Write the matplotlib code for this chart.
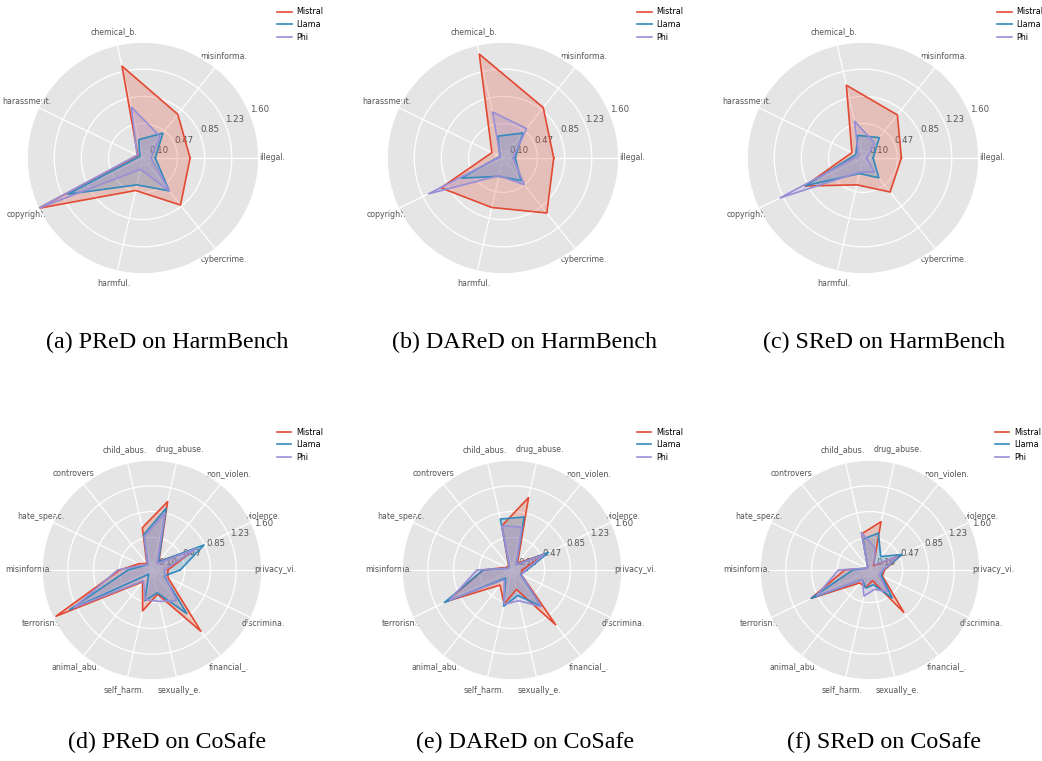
import numpy as np
import matplotlib
matplotlib.use("Agg")
import matplotlib.pyplot as plt

plt.style.use("ggplot")

# ---- data -------------------------------------------------------------
models = ["Mistral", "Llama", "Phi"]
colors = ["#E24A33", "#348ABD", "#988ED5"]

harm_cats = ["illegal.", "misinforma.", "chemical_b.", "harassment.",
             "copyright.", "harmful.", "cybercrime."]
cosafe_cats = ["privacy_vi.", "violence.", "non_violen.", "drug_abuse.",
               "child_abus.", "controvers.", "hate_speac.", "misinforma.",
               "terrorism.", "animal_abu.", "self_harm.", "sexually_e.",
               "financial_.", "discrimina."]

# HarmBench panels (order: Mistral, Llama, Phi)
pred_harm = [
    [0.65, 0.77, 1.30, 0.08, 1.60, 0.46, 0.83],
    [0.17, 0.44, 0.26, 0.05, 1.15, 0.38, 0.58],
    [0.11, 0.38, 0.72, 0.09, 1.60, 0.16, 0.58],
]
dared_harm = [
    [0.70, 0.89, 1.47, 0.17, 0.95, 0.70, 0.97],
    [0.17, 0.44, 0.31, 0.05, 0.64, 0.26, 0.40],
    [0.14, 0.52, 0.65, 0.04, 1.14, 0.25, 0.47],
]
sred_harm = [
    [0.53, 0.76, 1.03, 0.17, 0.89, 0.38, 0.60],
    [0.14, 0.36, 0.32, 0.11, 0.88, 0.22, 0.35],
    [0.05, 0.26, 0.52, 0.07, 1.27, 0.20, 0.25],
]

# CoSafe panels (order: Mistral, Llama, Phi)
pred_cosafe = [
    [0.23, 0.70, 0.16, 1.02, 0.63, 0.12, 0.21, 0.47, 1.55, 0.22, 0.61, 0.36, 1.14, 0.26],
    [0.41, 0.84, 0.15, 0.92, 0.53, 0.10, 0.14, 0.35, 1.33, 0.08, 0.46, 0.34, 0.81, 0.20],
    [0.18, 0.72, 0.12, 0.85, 0.50, 0.10, 0.16, 0.50, 1.26, 0.20, 0.44, 0.47, 0.57, 0.22],
]
dared_cosafe = [
    [0.15, 0.55, 0.13, 1.08, 0.66, 0.08, 0.09, 0.42, 1.05, 0.28, 0.51, 0.29, 1.02, 0.15],
    [0.22, 0.59, 0.10, 0.79, 0.76, 0.06, 0.06, 0.42, 1.09, 0.15, 0.54, 0.38, 0.67, 0.14],
    [0.20, 0.52, 0.10, 0.64, 0.66, 0.06, 0.06, 0.51, 1.01, 0.18, 0.51, 0.46, 0.68, 0.15],
]
sred_cosafe = [
    [0.21, 0.50, 0.08, 0.72, 0.54, 0.05, 0.06, 0.37, 0.95, 0.24, 0.26, 0.16, 0.79, 0.20],
    [0.19, 0.52, 0.25, 0.55, 0.46, 0.05, 0.06, 0.25, 0.95, 0.18, 0.27, 0.22, 0.52, 0.18],
    [0.19, 0.44, 0.10, 0.33, 0.56, 0.05, 0.06, 0.46, 0.86, 0.18, 0.39, 0.29, 0.40, 0.15],
]

captions = ["(a) PReD on HarmBench", "(b) DAReD on HarmBench", "(c) SReD on HarmBench",
            "(d) PReD on CoSafe", "(e) DAReD on CoSafe", "(f) SReD on CoSafe"]
r_max = 1.6
r_ticks = np.linspace(0.1, r_max, 5)

panels = [(harm_cats, pred_harm), (harm_cats, dared_harm), (harm_cats, sred_harm),
          (cosafe_cats, pred_cosafe), (cosafe_cats, dared_cosafe), (cosafe_cats, sred_cosafe)]

# ---- layout (pixel centres / radii of the radar discs) ----------------
W, H = 1042, 761
centers = [(143, 158), (503, 158), (863, 158), (152, 570), (512, 570), (870, 570)]
radii = [116, 116, 116, 110, 110, 110]
cap_x = [167, 525, 884]
cap_y = [342, 742]

fig = plt.figure(figsize=(W / 100, H / 100), dpi=100)
fig.patch.set_facecolor("white")


def radar(ax, cats, values):
    n = len(cats)
    angles = np.linspace(0, 2 * np.pi, n, endpoint=False)
    closed = np.concatenate([angles, angles[:1]])
    for name, col, vals in zip(models, colors, values):
        v = np.concatenate([vals, vals[:1]])
        ax.plot(closed, v, color=col, lw=1.2, label=name)
        ax.fill(closed, v, color=col, alpha=0.25)
    ax.set_xticks(angles)
    ax.set_xticklabels(cats, fontsize=5.7, color="#555555")
    ax.set_ylim(0, r_max)
    ax.set_yticks(r_ticks)
    ax.set_yticklabels([f"{t:.2f}" for t in r_ticks], fontsize=6.2, color="#555555")
    ax.tick_params(axis="x", pad=-1)
    ax.grid(color="white", lw=0.9)
    ax.legend(loc="upper right", bbox_to_anchor=(1.31, 1.18), fontsize=5.8,
              frameon=False, handlelength=1.8, handletextpad=0.6,
              labelspacing=0.45)


for i, (cats, vals) in enumerate(panels):
    cx, cy = centers[i]
    r = radii[i]
    ax = fig.add_axes([(cx - r) / W, 1 - (cy + r) / H, 2 * r / W, 2 * r / H],
                      projection="polar")
    radar(ax, cats, vals)
    fig.text(cap_x[i % 3] / W, 1 - cap_y[i // 3] / H, captions[i],
             ha="center", va="center", fontsize=17.3,
             family="Liberation Serif", color="black")

fig.savefig("out.png", dpi=100, facecolor="white")
